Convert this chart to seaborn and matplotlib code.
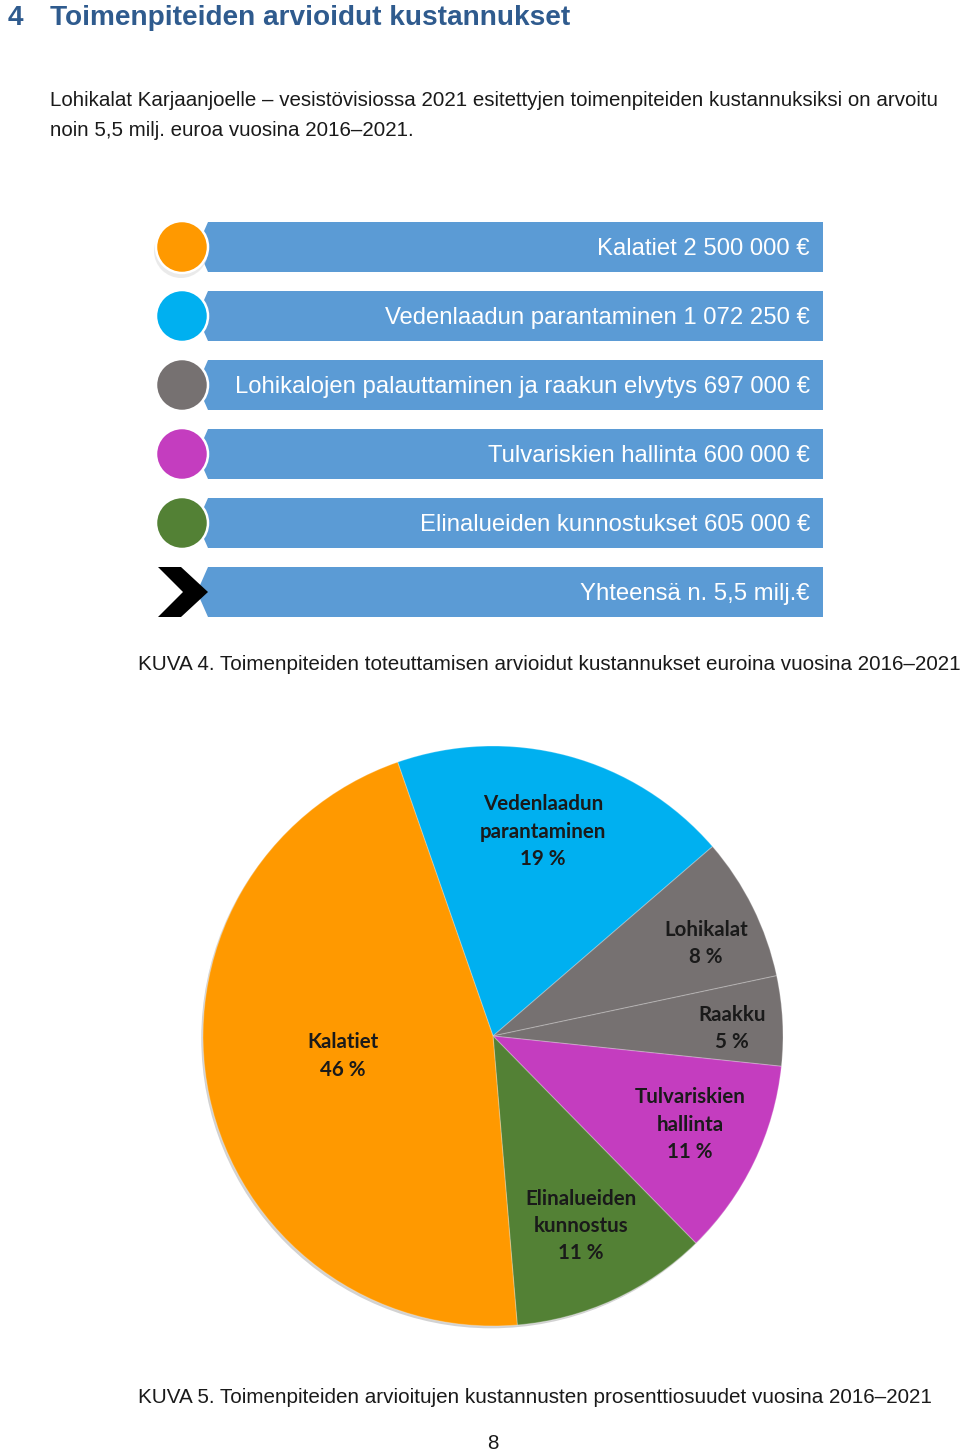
import matplotlib
matplotlib.use("Agg")
import matplotlib.pyplot as plt
from matplotlib.patches import Polygon, Circle
import seaborn as sns

# ---------------- data ----------------
heading_num = "4"
heading_text = "Toimenpiteiden arvioidut kustannukset"
intro_lines = [
    "Lohikalat Karjaanjoelle – vesistövisiossa 2021 esitettyjen toimenpiteiden kustannuksiksi on arvoitu",
    "noin 5,5 milj. euroa vuosina 2016–2021.",
]
cost_names = [
    "Kalatiet",
    "Vedenlaadun parantaminen",
    "Lohikalojen palauttaminen ja raakun elvytys",
    "Tulvariskien hallinta",
    "Elinalueiden kunnostukset",
]
cost_values = [2500000, 1072250, 697000, 600000, 605000]
total_label = "Yhteensä n. 5,5 milj.€"
caption4 = "KUVA 4. Toimenpiteiden toteuttamisen arvioidut kustannukset euroina vuosina 2016–2021"

pie_names = ["Vedenlaadun\nparantaminen", "Lohikalat", "Raakku",
             "Tulvariskien\nhallinta", "Elinalueiden\nkunnostus", "Kalatiet"]
pie_pct = [19, 8, 5, 11, 11, 46]
caption5 = "KUVA 5. Toimenpiteiden arvioitujen kustannusten prosenttiosuudet vuosina 2016–2021"
page_number = "8"

# ---------------- style ----------------
sns.set_theme(style="white")
SANS = ["Liberation Sans", "DejaVu Sans"]
plt.rcParams["font.family"] = SANS

row_colors = ["#FF9900", "#00B0F0", "#767171", "#C43DBF", "#538135"]
pie_colors = ["#00B0F0", "#767171", "#767171", "#C43DBF", "#538135", "#FF9900"]
bar_blue = "#5B9BD5"
text_dark = "#1a1a1a"
head_blue = "#2F5B8E"

W, H = 960, 1453
fig = plt.figure(figsize=(W / 100, H / 100), dpi=100)
fig.patch.set_facecolor("white")

# overlay axes in pixel coordinates
ax = fig.add_axes([0, 0, 1, 1])
ax.set_xlim(0, W)
ax.set_ylim(H, 0)
ax.axis("off")

# heading
ax.text(8, 25, heading_num, fontsize=20.2, fontweight="bold", color=head_blue,
        ha="left", va="baseline", family=SANS)
ax.text(50, 25, heading_text, fontsize=20.2, fontweight="bold", color=head_blue,
        ha="left", va="baseline", family=SANS)

# intro paragraph
for i, line in enumerate(intro_lines):
    ax.text(50, 106 + 30 * i, line, fontsize=14.73, color=text_dark,
            ha="left", va="baseline", family=SANS)

# ---------------- infographic ----------------
row_labels = [f"{n} {v:,} €".replace(",", " ") for n, v in zip(cost_names, cost_values)]
row_labels.append(total_label)
y0, step = 247, 69
bar_left, bar_right, half_h, notch = 208, 823, 25, 11
cx, r = 182, 26
for i, lab in enumerate(row_labels):
    yc = y0 + step * i
    poly = Polygon([(bar_left, yc - half_h), (bar_right, yc - half_h),
                    (bar_right, yc + half_h), (bar_left, yc + half_h),
                    (bar_left - notch, yc)], closed=True,
                   facecolor=bar_blue, edgecolor="none", zorder=2)
    ax.add_patch(poly)
    if i < len(row_colors):
        if i == 0:
            ax.add_patch(Circle((cx - 1, yc + 4), r + 1, facecolor="#e2e2e2",
                                edgecolor="none", alpha=0.7, zorder=2.5))
        ax.add_patch(Circle((cx, yc), r, facecolor=row_colors[i],
                            edgecolor="white", linewidth=1.8, zorder=3))
    else:
        chev = Polygon([(158, yc - 25), (181, yc - 25), (208, yc),
                        (181, yc + 25), (158, yc + 25), (183, yc)],
                       closed=True, facecolor="black", edgecolor="none", zorder=3)
        ax.add_patch(chev)
    ax.text(810, yc + 8, lab, fontsize=17.2, color="white", ha="right",
            va="baseline", family=SANS, zorder=4)

ax.text(138, 670, caption4, fontsize=14.9, color=text_dark, ha="left",
        va="baseline", family=SANS)

# ---------------- pie ----------------
pcx, pcy, pr = 493, 1036, 290
ax_pie = fig.add_axes([(pcx - pr) / W, 1 - (pcy + pr) / H, 2 * pr / W, 2 * pr / H])
ax_pie.add_patch(Circle((-0.006, -0.008), 1.0, facecolor="#d2d2d2",
                        edgecolor="none", zorder=0, clip_on=False))
wedges, _ = ax_pie.pie(pie_pct, colors=pie_colors, startangle=109.2,
                       counterclock=False, radius=1.0,
                       wedgeprops=dict(edgecolor=(1, 1, 1, 0.25), linewidth=0.8))
for w in wedges:
    w.set_clip_on(False)
ax_pie.set_xlim(-1, 1)
ax_pie.set_ylim(-1, 1)
ax_pie.set_aspect("equal")
ax_pie.axis("off")

label_xy = [(0.172, 0.705), (0.734, 0.318), (0.824, 0.025),
            (0.679, -0.306), (0.303, -0.655), (-0.517, -0.069)]
for name, pct, (lx, ly) in zip(pie_names, pie_pct, label_xy):
    ax_pie.text(lx, ly, f"{name}\n{pct} %", ha="center", va="center",
                fontsize=14.8, fontweight="bold", color=text_dark,
                linespacing=1.46, family=["Lato", "DejaVu Sans"])

ax.text(138, 1403, caption5, fontsize=14.87, color=text_dark, ha="left",
        va="baseline", family=SANS)
ax.text(493, 1449, page_number, fontsize=14.7, color=text_dark, ha="center",
        va="baseline", family=SANS)

fig.savefig("out.png", dpi=100, facecolor="white")
